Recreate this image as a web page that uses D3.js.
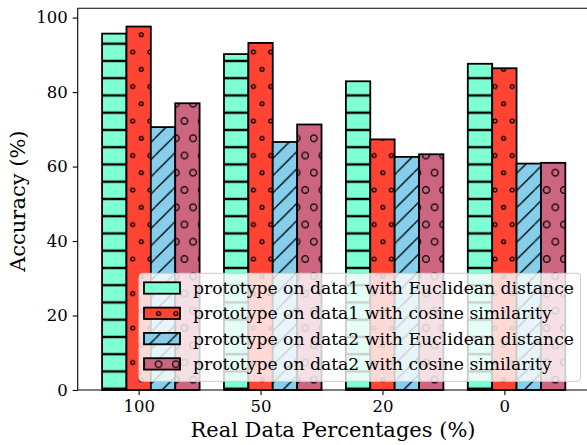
<!DOCTYPE html>
<html>
<head>
<meta charset="utf-8">
<script src="https://cdn.jsdelivr.net/npm/d3@7"></script>
<style>
  body { margin: 0; background: #fff; }
  text { font-family: "DejaVu Serif", serif; fill: #000; }
</style>
</head>
<body>
<div id="chart"></div>
<script>
// data
const categories = ["100", "50", "20", "0"];
const seriesNames = [
  "prototype on data1 with Euclidean distance",
  "prototype on data1 with cosine similarity",
  "prototype on data2 with Euclidean distance",
  "prototype on data2 with cosine similarity"
];
const data1Euclid = [95.7, 90.2, 82.9, 87.6];
const data1Cosine = [97.6, 93.2, 67.3, 86.4];
const data2Euclid = [70.6, 66.6, 62.6, 60.8];
const data2Cosine = [77.0, 71.3, 63.3, 61.0];
const yTicks = [0, 20, 40, 60, 80, 100];

const seriesValues = [data1Euclid, data1Cosine, data2Euclid, data2Cosine];
const colors = ["#7fffd4", "#ff4433", "#87ceeb", "#cc6680"];
const hatchIds = ["hatchH", "hatchSmall", "hatchDiag", "hatchLarge"];

const svgWidth = 587;
const svgHeight = 445;
const plot = { left: 77.7, right: 588, top: 8.3, bottom: 390 };
const barWidth = 0.2;

const svg = d3.select("#chart")
  .append("svg")
  .attr("width", svgWidth)
  .attr("height", svgHeight);

// hatch patterns (matplotlib style, tiled in page space)
const step = 17.25;
const defs = svg.append("defs");

const pH = defs.append("pattern")
  .attr("id", "hatchH")
  .attr("patternUnits", "userSpaceOnUse")
  .attr("x", 0).attr("y", 9.2)
  .attr("width", step).attr("height", step);
pH.append("line")
  .attr("x1", 0).attr("x2", step).attr("y1", 0).attr("y2", 0)
  .attr("stroke", "#000").attr("stroke-width", 2.4);
pH.append("line")
  .attr("x1", 0).attr("x2", step).attr("y1", step).attr("y2", step)
  .attr("stroke", "#000").attr("stroke-width", 2.4);

const pD = defs.append("pattern")
  .attr("id", "hatchDiag")
  .attr("patternUnits", "userSpaceOnUse")
  .attr("x", 0).attr("y", 0)
  .attr("width", step).attr("height", step);
[[-step, step, 0, 0], [0, step, step, 0], [step, step, 2 * step, 0]].forEach(s => {
  pD.append("line")
    .attr("x1", s[0]).attr("y1", s[1]).attr("x2", s[2]).attr("y2", s[3])
    .attr("stroke", "#000").attr("stroke-width", 1.3);
});

function circlePattern(id, r) {
  const p = defs.append("pattern")
    .attr("id", id)
    .attr("patternUnits", "userSpaceOnUse")
    .attr("x", 132.7).attr("y", 17.5)
    .attr("width", step).attr("height", step * 2);
  const pts = [[0, 0], [step, 0], [0, step * 2], [step, step * 2], [step / 2, step]];
  pts.forEach(pt => {
    p.append("circle")
      .attr("cx", pt[0]).attr("cy", pt[1]).attr("r", r)
      .attr("fill", "none").attr("stroke", "#000").attr("stroke-width", 1.3);
  });
}
circlePattern("hatchSmall", 1.9);
circlePattern("hatchLarge", 3.3);

// scales
const x = d3.scaleLinear()
  .domain([-0.5, 3.686])
  .range([plot.left, plot.right]);

const y = d3.scaleLinear()
  .domain([0, 102.5])
  .range([plot.bottom, plot.top]);

const barPx = x(barWidth) - x(0);

// bars
seriesValues.forEach((vals, s) => {
  const g = svg.append("g");
  const rows = vals.map((v, i) => ({ i: i, v: v }));
  g.selectAll("rect.fill")
    .data(rows)
    .enter()
    .append("rect")
    .attr("x", d => x(d.i + (s - 1) * barWidth) - barPx / 2)
    .attr("y", d => y(d.v))
    .attr("width", barPx)
    .attr("height", d => y(0) - y(d.v))
    .attr("fill", colors[s]);
  g.selectAll("rect.hatch")
    .data(rows)
    .enter()
    .append("rect")
    .attr("x", d => x(d.i + (s - 1) * barWidth) - barPx / 2)
    .attr("y", d => y(d.v))
    .attr("width", barPx)
    .attr("height", d => y(0) - y(d.v))
    .attr("fill", `url(#${hatchIds[s]})`)
    .attr("stroke", "#000")
    .attr("stroke-width", 1.8);
});

// axes
const xAxis = d3.axisBottom(x)
  .tickValues(d3.range(categories.length))
  .tickFormat(i => categories[i])
  .tickSize(5)
  .tickPadding(5);

const yAxis = d3.axisLeft(y)
  .tickValues(yTicks)
  .tickSize(5)
  .tickPadding(5);

const gx = svg.append("g")
  .attr("transform", `translate(0, ${plot.bottom})`)
  .call(xAxis);
const gy = svg.append("g")
  .attr("transform", `translate(${plot.left}, 0)`)
  .call(yAxis);

[gx, gy].forEach(g => {
  g.select(".domain").remove();
  g.selectAll(".tick line").attr("stroke", "#000").attr("stroke-width", 1.1);
  g.selectAll(".tick text")
    .style("font-family", "'DejaVu Serif', serif")
    .style("font-size", "16.5px")
    .attr("fill", "#000");
});

// spines: left, bottom, top
svg.append("line")
  .attr("x1", plot.left).attr("x2", plot.left)
  .attr("y1", plot.top).attr("y2", plot.bottom)
  .attr("stroke", "#000").attr("stroke-width", 1.1);
svg.append("line")
  .attr("x1", plot.left).attr("x2", svgWidth)
  .attr("y1", plot.bottom).attr("y2", plot.bottom)
  .attr("stroke", "#000").attr("stroke-width", 1.1);
svg.append("line")
  .attr("x1", plot.left).attr("x2", svgWidth)
  .attr("y1", plot.top).attr("y2", plot.top)
  .attr("stroke", "#000").attr("stroke-width", 1.1);

// axis labels
svg.append("text")
  .attr("transform", `translate(25, ${(plot.top + plot.bottom) / 2 + 2}) rotate(-90)`)
  .attr("text-anchor", "middle")
  .style("font-size", "21px")
  .text("Accuracy (%)");

svg.append("text")
  .attr("x", 333)
  .attr("y", 437)
  .attr("text-anchor", "middle")
  .style("font-size", "21px")
  .text("Real Data Percentages (%)");

// legend
const legend = svg.append("g");
legend.append("rect")
  .attr("x", 139).attr("y", 273.3)
  .attr("width", 441.5).attr("height", 108)
  .attr("rx", 3)
  .attr("fill", "#fff").attr("fill-opacity", 0.8)
  .attr("stroke", "#ccc").attr("stroke-width", 1);

const items = legend.selectAll("g.item")
  .data(seriesNames)
  .enter()
  .append("g")
  .attr("transform", (d, i) => `translate(0, ${288 + i * 25.3})`);

items.append("rect")
  .attr("x", 144).attr("y", -5.7)
  .attr("width", 36).attr("height", 11.4)
  .attr("fill", (d, i) => colors[i]);
items.append("rect")
  .attr("x", 144).attr("y", -5.7)
  .attr("width", 36).attr("height", 11.4)
  .attr("fill", (d, i) => `url(#${hatchIds[i]})`)
  .attr("stroke", "#000").attr("stroke-width", 1.8);

items.append("text")
  .attr("x", 193)
  .attr("y", 6)
  .style("font-size", "17.2px")
  .text(d => d);
</script>
</body>
</html>
